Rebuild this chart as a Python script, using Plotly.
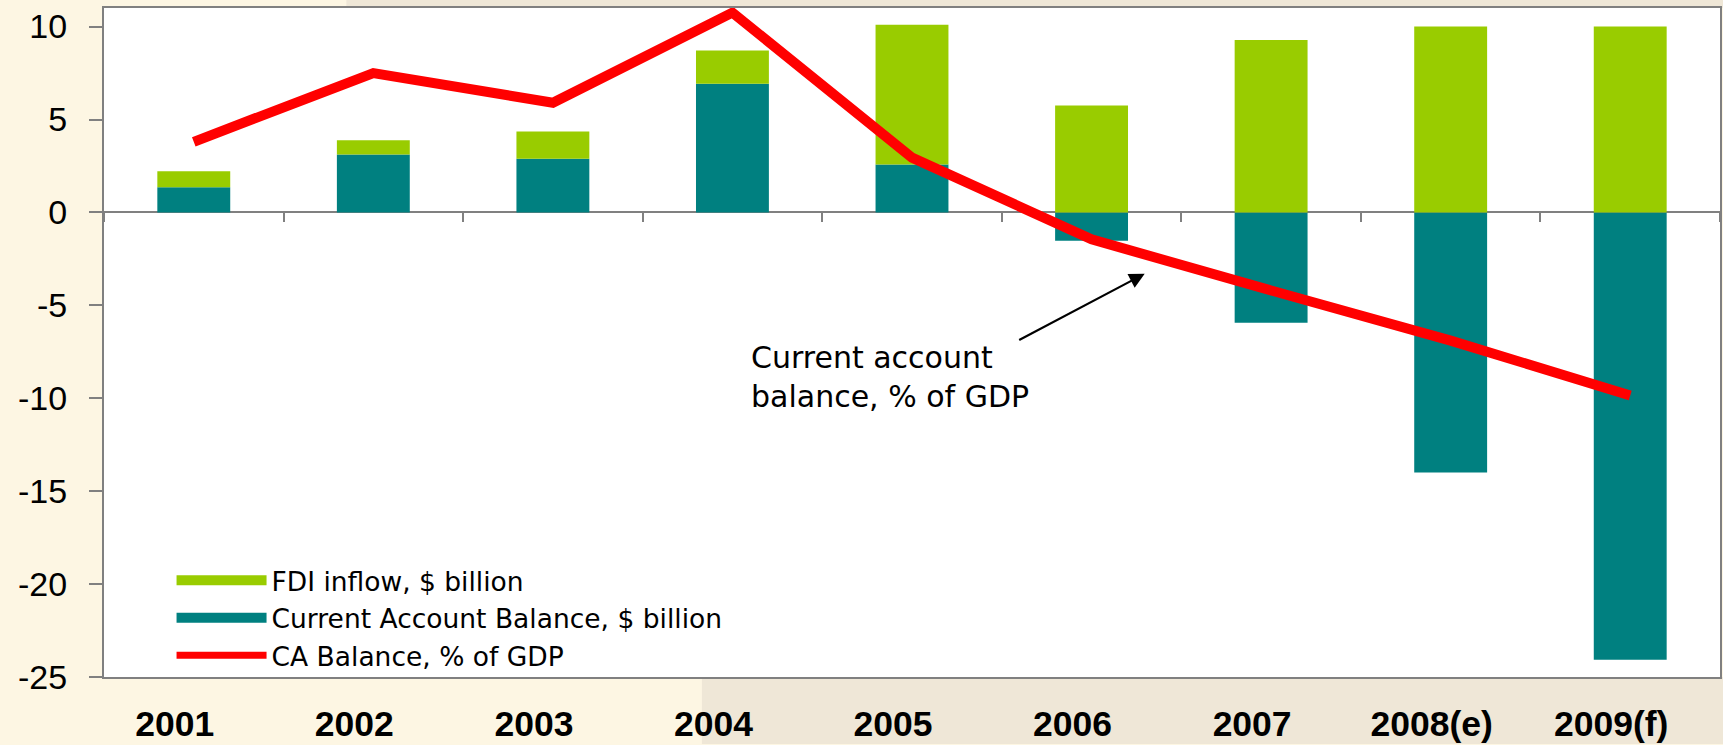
import plotly.graph_objects as go

years = ["2001", "2002", "2003", "2004", "2005", "2006", "2007", "2008(e)", "2009(f)"]
ca_usd = [1.36, 3.12, 2.89, 6.93, 2.58, -1.52, -5.94, -14.0, -24.07]
fdi_usd = [0.85, 0.76, 1.47, 1.78, 7.52, 5.75, 9.28, 10.0, 10.0]
ca_gdp = [3.8, 7.5, 5.9, 10.75, 2.95, -1.45, -4.2, -6.9, -9.85]

y_ticks = [10, 5, 0, -5, -10, -15, -20, -25]
y_tick_labels = ["10", "5", "0", "-5", "-10", "-15", "-20", "-25"]

GREEN = "#99CC00"
TEAL = "#008080"
RED = "#FF0000"
GRAY = "#808080"
FONT = "Arial, Liberation Sans, sans-serif"
WIDE = "DejaVu Sans, Arial, sans-serif"

fig = go.Figure()
fig.add_trace(go.Bar(x=years, y=ca_usd, marker=dict(color=TEAL, line=dict(width=0)),
                     name="Current Account Balance, $ billion", showlegend=False))
fig.add_trace(go.Bar(x=years, y=fdi_usd, marker=dict(color=GREEN, line=dict(width=0)),
                     name="FDI inflow, $ billion", showlegend=False))
fig.add_trace(go.Scatter(x=years, y=ca_gdp, mode="lines", line=dict(color=RED, width=10),
                         name="CA Balance, % of GDP", showlegend=False))
# invisible trace on the overlay axis that carries the boundary tick marks at zero
fig.add_trace(go.Scatter(x=years, y=[None] * len(years), xaxis="x2", yaxis="y",
                         showlegend=False, hoverinfo="skip"))
# legend entries
for name, color, w in [("FDI inflow, $ billion", GREEN, 18),
                       ("Current Account Balance, $ billion", TEAL, 18),
                       ("CA Balance, % of GDP", RED, 7)]:
    fig.add_trace(go.Scatter(x=[None], y=[None], mode="lines", name=name,
                             line=dict(color=color, width=w)))

fig.update_layout(
    width=1723, height=745,
    margin=dict(l=104, r=1, t=8, b=64),
    paper_bgcolor="#FDF6E3",
    plot_bgcolor="white",
    barmode="relative",
    bargap=0.594,
    font=dict(family=FONT, color="black"),
    xaxis=dict(type="category", categoryorder="array", categoryarray=years,
               showline=True, linecolor=GRAY, linewidth=2, mirror=True,
               ticks="", showgrid=False, zeroline=False,
               tickfont=dict(size=35.5, family=FONT, weight="bold"),
               ticklabelstandoff=14, ticklabelshift=-19),
    xaxis2=dict(type="category", categoryorder="array", categoryarray=years,
                overlaying="x", matches="x", anchor="free", position=25 / 36,
                ticks="outside", tickson="boundaries", ticklen=9, tickwidth=1.5,
                tickcolor=GRAY, showticklabels=False, showline=False,
                showgrid=False, zeroline=False),
    yaxis=dict(range=[-25, 11], tickvals=y_ticks, ticktext=y_tick_labels, showgrid=False,
               showline=True, linecolor=GRAY, linewidth=2, mirror=True,
               ticks="outside", ticklen=13, tickwidth=2, tickcolor=GRAY,
               zeroline=True, zerolinecolor=GRAY, zerolinewidth=2,
               tickfont=dict(size=34, family=FONT), ticklabelstandoff=15),
    legend=dict(x=0.0418, y=0.18, xanchor="left", yanchor="top",
                bgcolor="rgba(0,0,0,0)", font=dict(size=26.5, family=WIDE),
                itemwidth=90, tracegroupgap=0, itemclick=False),
    showlegend=True,
)

fig.add_annotation(text="Current account<br>balance, % of GDP", xref="paper", yref="y",
                   x=0.399, y=-8.85, xanchor="left", yanchor="middle", align="left",
                   showarrow=False, font=dict(size=30, family=WIDE, color="black"))
fig.add_annotation(text="", xref="paper", yref="y", x=0.644, y=-3.3,
                   showarrow=True, axref="pixel", ayref="pixel", ax=-127, ay=67,
                   arrowhead=2, arrowsize=1.4, arrowwidth=2.2, arrowcolor="black")

# background tint outside the plot area
fig.add_shape(type="rect", xref="paper", yref="paper", x0=0.37, x1=1.01, y0=-0.1, y1=0,
              fillcolor="#EFE7D7", line=dict(width=0), layer="below")
fig.add_shape(type="rect", xref="paper", yref="paper", x0=0.15, x1=1.01, y0=1, y1=1.02,
              fillcolor="#EFE7D7", line=dict(width=0), layer="below")

fig.write_html("out.html")
